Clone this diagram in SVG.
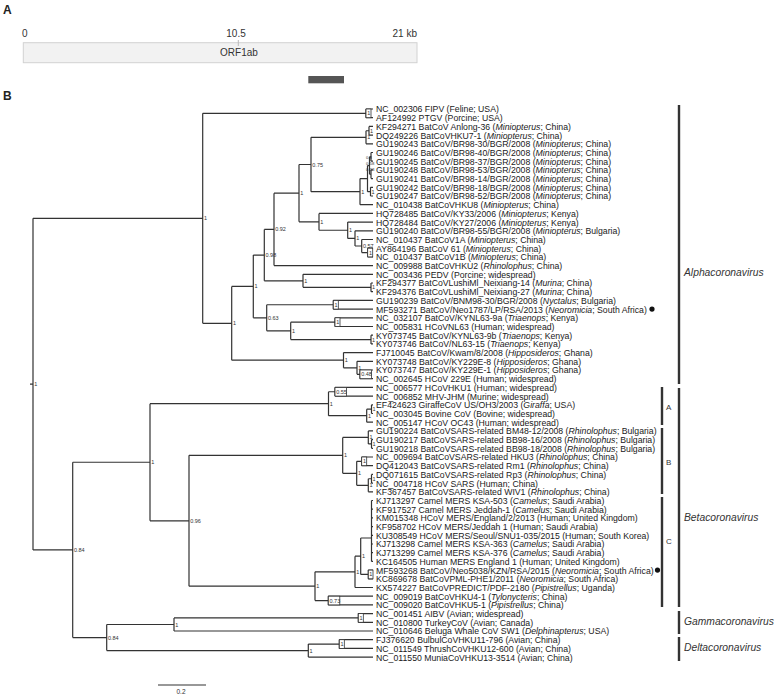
<svg xmlns="http://www.w3.org/2000/svg" width="781" height="696" viewBox="0 0 781 696">
<style>
.lf{font-family:"Liberation Sans",Arial,sans-serif;font-size:9.9px;fill:#1a1a1a}
.i{font-style:italic}
.sv{font-family:"Liberation Sans",Arial,sans-serif;font-size:5.5px;fill:#333}
.sv2{font-family:"Liberation Sans",Arial,sans-serif;font-size:4.3px;fill:#333}
.br{fill:none;stroke:#333;stroke-width:1.2}
.bx{fill:#fff;stroke:#333;stroke-width:0.8}
.cl{font-family:"Liberation Sans",Arial,sans-serif;font-size:10.3px;font-style:italic;fill:#333}
.sub{font-family:"Liberation Sans",Arial,sans-serif;font-size:8px;fill:#333}
.bar{stroke:#333;stroke-width:2.4}
.pa{font-family:"Liberation Sans",Arial,sans-serif;font-size:10px;fill:#333}
.hd{font-family:"Liberation Sans",Arial,sans-serif;font-size:12px;font-weight:bold;fill:#222}
</style>
<!-- Panel A -->
<g id="panelA">
<text class="hd" x="3" y="14">A</text>
<text class="pa" x="22" y="37">0</text>
<text class="pa" x="236" y="37" text-anchor="middle">10.5</text>
<text class="pa" x="417" y="37" text-anchor="end">21 kb</text>
<rect x="23.3" y="42.7" width="393.7" height="20" fill="#f2f2f2" stroke="#d2d2d2" stroke-width="1"/>
<line x1="238.3" y1="40" x2="238.3" y2="46" stroke="#bbb" stroke-width="1"/>
<text class="pa" x="239" y="56" text-anchor="middle">ORF1ab</text>
<rect x="308.3" y="76" width="35.7" height="7.3" fill="#555"/>
</g>
<text class="hd" x="3" y="100">B</text>
<!-- connectors -->
<g id="connectors" class="br">
<path d="M366 109V117.7M366 109H373M366 117.7H373
M369 126.4V135.1M369 126.4H373M369 135.1H373
M366 130.75V143.8M366 130.75H369M366 143.8H373
M371 152.5V161.2M371 152.5H373M371 161.2H373M371 169.9V178.6M371 169.9H373M371 178.6H373
M369.5 156.85V174.25M369.5 156.85H371M369.5 174.25H371
M370.5 187.3V196M370.5 187.3H373M370.5 196H373
M367.5 165.55V191.65M367.5 165.55H369.5M367.5 191.65H370.5
M360 178.6V204.7M360 178.6H367.5M360 204.7H373
M311 137.3V191.65M311 137.3H366M311 191.65H360
M367.7 248.2V256.9M367.7 248.2H373M367.7 256.9H373
M361.7 239.5V252.55M361.7 239.5H373M361.7 252.55H367.7
M355 230.8V246M355 230.8H373M355 246H361.7
M347.7 222.1V238.4M347.7 222.1H373M347.7 238.4H355
M319 213.4V230.25M319 213.4H373M319 230.25H347.7
M299 164.5V221.8M299 164.5H311M299 221.8H319
M274 193.15V265.6M274 193.15H299M274 265.6H373
M371 283V291.7M371 283H373M371 291.7H373
M303 274.3V287.35M303 274.3H373M303 287.35H371
M264.3 229.4V280.8M264.3 229.4H274M264.3 280.8H303
M333.3 300.4V309.1M333.3 300.4H373M333.3 309.1H373
M335 317.8V326.5M335 317.8H373M335 326.5H373
M371 335.2V343.9M371 335.2H373M371 343.9H373
M290.7 322.15V339.55M290.7 322.15H335M290.7 339.55H371
M266.7 304.75V330.85M266.7 304.75H333.3M266.7 330.85H290.7
M253.3 255.1V317.8M253.3 255.1H264.3M253.3 317.8H266.7
M360 370V378.7M360 370H373M360 378.7H373
M357 361.3V374.35M357 361.3H373M357 374.35H360
M343.5 352.6V367.8M343.5 352.6H373M343.5 367.8H357
M231.7 286.45V360.2M231.7 286.45H253.3M231.7 360.2H343.5
M202.7 113.35V323.3M202.7 113.35H366M202.7 323.3H231.7
M335 387.4V396.1M335 387.4H373M335 396.1H373
M371.5 404.8V413.5M371.5 404.8H373M371.5 413.5H373
M366.7 409.15V422.2M366.7 409.15H371.5M366.7 422.2H373
M328.5 391.75V415.7M328.5 391.75H335M328.5 415.7H366.7
M371.5 439.6V448.3M371.5 439.6H373M371.5 448.3H373
M368.3 430.9V443.95M368.3 430.9H373M368.3 443.95H371.5
M361.7 457V465.7M361.7 457H373M361.7 465.7H373
M371.5 474.4V483.1M371.5 474.4H373M371.5 483.1H373
M368.3 478.75V491.8M368.3 478.75H371.5M368.3 491.8H373
M356.7 461.35V485.3M356.7 461.35H361.7M356.7 485.3H368.3
M342.7 437.4V473.3M342.7 437.4H368.3M342.7 473.3H356.7
M371.5 500.5V561.4M371.5 500.5H373M371.5 509.2H373M371.5 517.9H373M371.5 526.6H373M371.5 535.3H373M371.5 544H373M371.5 552.7H373M371.5 561.4H373
M368.3 570.1V578.8M368.3 570.1H373M368.3 578.8H373
M360.7 538V574.45M360.7 538H371.5M360.7 574.45H368.3
M355 556.2V587.5M355 556.2H360.7M355 587.5H373
M328.3 596.2V604.9M328.3 596.2H373M328.3 604.9H373
M315 571.85V600.55M315 571.85H355M315 600.55H328.3
M189 455.35V586.2M189 455.35H342.7M189 586.2H315
M150 403.7V520.8M150 403.7H328.5M150 520.8H189
M358.3 613.6V622.3M358.3 613.6H373M358.3 622.3H373
M174 617.95V631M174 617.95H358.3M174 631H373
M339.3 639.7V648.4M339.3 639.7H373M339.3 648.4H373
M308.3 644.05V657.1M308.3 644.05H339.3M308.3 657.1H373
M106.7 624.5V650.6M106.7 624.5H174M106.7 650.6H308.3
M72.7 462.25V637.55M72.7 462.25H150M72.7 637.55H106.7
M33 218.3V549.9M33 218.3H202.7M33 549.9H72.7M30 384.1H33"/>
<line x1="158" y1="685" x2="206" y2="685"/>
</g>
<!-- support values -->
<g id="support-values">
<rect class="bx" x="366" y="109" width="5" height="8.7"/><text class="sv" x="367.3" y="115.4">1</text>
<text class="sv" x="370" y="132.8">1</text>
<text class="sv" x="367.2" y="139.3">1</text>
<text class="sv2" x="366" y="159">0.8</text>
<text class="sv2" x="366" y="165">0.58</text>
<text class="sv2" x="366" y="171">0.93</text>
<text class="sv" x="371.5" y="193.6">1</text>
<text class="sv" x="361.2" y="193.6">1</text>
<text class="sv" x="312.3" y="166.5">0.75</text>
<rect class="bx" x="367.7" y="248.2" width="5" height="8.7"/><text class="sv" x="368.9" y="254.5">1</text>
<text class="sv" x="362.9" y="248">0.57</text>
<text class="sv" x="356.2" y="240.4">1</text>
<text class="sv" x="348.9" y="232.2">1</text>
<text class="sv" x="320.2" y="223.8">1</text>
<text class="sv" x="300.2" y="195.1">1</text>
<text class="sv" x="275.2" y="231.4">0.92</text>
<text class="sv" x="372" y="289.3">1</text>
<text class="sv" x="304.2" y="282.8">1</text>
<text class="sv" x="265.5" y="257.1">0.98</text>
<rect class="bx" x="333.3" y="300.4" width="5" height="8.7"/><text class="sv" x="334.5" y="306.7">1</text>
<rect class="bx" x="335" y="317.8" width="5" height="8.7"/><text class="sv" x="336.2" y="324.1">1</text>
<text class="sv" x="372" y="341.5">1</text>
<text class="sv" x="291.9" y="332.8">1</text>
<text class="sv" x="267.9" y="319.8">0.63</text>
<text class="sv" x="254.5" y="288.4">1</text>
<rect class="bx" x="360" y="370" width="11.5" height="8.7"/><text class="sv" x="361.2" y="376.3">0.48</text>
<text class="sv" x="358.2" y="369.8">1</text>
<text class="sv" x="344.7" y="362.2">1</text>
<text class="sv" x="232.9" y="325.3">1</text>
<text class="sv" x="203.9" y="220.3">1</text>
<rect class="bx" x="335" y="387.4" width="11.5" height="8.7"/><text class="sv" x="336.2" y="393.7">0.55</text>
<text class="sv" x="372.5" y="411.1">1</text>
<text class="sv" x="367.9" y="417.7">1</text>
<text class="sv" x="329.7" y="405.7">1</text>
<text class="sv" x="372.5" y="446">1</text>
<text class="sv" x="369.5" y="439.4">1</text>
<rect class="bx" x="361.7" y="457" width="5" height="8.7"/><text class="sv" x="362.9" y="463.3">1</text>
<text class="sv" x="372.5" y="480.7">1</text>
<text class="sv" x="369.5" y="487.3">1</text>
<text class="sv" x="357.9" y="475.3">1</text>
<text class="sv" x="343.9" y="457.3">1</text>
<rect class="bx" x="368.3" y="570.1" width="4.7" height="8.7"/><text class="sv" x="369.3" y="576.4">1</text>
<text class="sv" x="361.9" y="558.2">1</text>
<text class="sv" x="356.2" y="573.8">1</text>
<rect class="bx" x="328.3" y="596.2" width="11.5" height="8.7"/><text class="sv" x="329.5" y="602.5">0.73</text>
<text class="sv" x="316.2" y="588.2">1</text>
<text class="sv" x="190.2" y="522.8">0.96</text>
<text class="sv" x="151.2" y="464.2">1</text>
<rect class="bx" x="358.3" y="613.6" width="5" height="8.7"/><text class="sv" x="359.5" y="619.9">1</text>
<text class="sv" x="175.2" y="626.5">1</text>
<rect class="bx" x="339.3" y="639.7" width="5" height="8.7"/><text class="sv" x="340.5" y="646">1</text>
<text class="sv" x="309.5" y="652.6">1</text>
<text class="sv" x="107.9" y="639.5">0.84</text>
<text class="sv" x="73.9" y="551.9">0.84</text>
<text class="sv" x="34.2" y="386">1</text>
<text class="sv" x="176.5" y="694" style="font-size:6.5px">0.2</text>
</g>
<!-- leaves -->
<g id="leaves" transform="scale(0.88 1)">
<g id="n01"><text class="lf" x="427.3" y="112.5">NC_002306 FIPV (Feline; USA)</text></g>
<g id="n02"><text class="lf" x="427.3" y="121.2">AF124992 PTGV (Porcine; USA)</text></g>
<g id="n03"><text class="lf" x="427.3" y="129.9">KF294271 BatCoV Anlong-36 (<tspan class="i">Miniopterus</tspan>; China)</text></g>
<g id="n04"><text class="lf" x="427.3" y="138.6">DQ249226 BatCoVHKU7-1 (<tspan class="i">Miniopterus</tspan>; China)</text></g>
<g id="n05"><text class="lf" x="427.3" y="147.3">GU190243 BatCoV/BR98-30/BGR/2008 (<tspan class="i">Miniopterus</tspan>; China)</text></g>
<g id="n06"><text class="lf" x="427.3" y="156">GU190246 BatCoV/BR98-40/BGR/2008 (<tspan class="i">Miniopterus</tspan>; China)</text></g>
<g id="n07"><text class="lf" x="427.3" y="164.7">GU190245 BatCoV/BR98-37/BGR/2008 (<tspan class="i">Miniopterus</tspan>; China)</text></g>
<g id="n08"><text class="lf" x="427.3" y="173.4">GU190248 BatCoV/BR98-53/BGR/2008 (<tspan class="i">Miniopterus</tspan>; China)</text></g>
<g id="n09"><text class="lf" x="427.3" y="182.1">GU190241 BatCoV/BR98-14/BGR/2008 (<tspan class="i">Miniopterus</tspan>; China)</text></g>
<g id="n10"><text class="lf" x="427.3" y="190.8">GU190242 BatCoV/BR98-18/BGR/2008 (<tspan class="i">Miniopterus</tspan>; China)</text></g>
<g id="n11"><text class="lf" x="427.3" y="199.5">GU190247 BatCoV/BR98-52/BGR/2008 (<tspan class="i">Miniopterus</tspan>; China)</text></g>
<g id="n12"><text class="lf" x="427.3" y="208.2">NC_010438 BatCoVHKU8 (<tspan class="i">Miniopterus</tspan>; China)</text></g>
<g id="n13"><text class="lf" x="427.3" y="216.9">HQ728485 BatCoV/KY33/2006 (<tspan class="i">Miniopterus</tspan>; Kenya)</text></g>
<g id="n14"><text class="lf" x="427.3" y="225.6">HQ728484 BatCoV/KY27/2006 (<tspan class="i">Miniopterus</tspan>; Kenya)</text></g>
<g id="n15"><text class="lf" x="427.3" y="234.3">GU190240 BatCoV/BR98-55/BGR/2008 (<tspan class="i">Miniopterus</tspan>; Bulgaria)</text></g>
<g id="n16"><text class="lf" x="427.3" y="243">NC_010437 BatCoV1A (<tspan class="i">Miniopterus</tspan>; China)</text></g>
<g id="n17"><text class="lf" x="427.3" y="251.7">AY864196 BatCoV 61 (<tspan class="i">Miniopterus</tspan>; China)</text></g>
<g id="n18"><text class="lf" x="427.3" y="260.4">NC_010437 BatCoV1B (<tspan class="i">Miniopterus</tspan>; China)</text></g>
<g id="n19"><text class="lf" x="427.3" y="269.1">NC_009988 BatCoVHKU2 (<tspan class="i">Rhinolophus</tspan>; China)</text></g>
<g id="n20"><text class="lf" x="427.3" y="277.8">NC_003436 PEDV (Porcine; widespread)</text></g>
<g id="n21"><text class="lf" x="427.3" y="286.5">KF294377 BatCoVLushiMl_Neixiang-14 (<tspan class="i">Murina</tspan>; China)</text></g>
<g id="n22"><text class="lf" x="427.3" y="295.2">KF294376 BatCoVLushiMl_Neixiang-27 (<tspan class="i">Murina</tspan>; China)</text></g>
<g id="n23"><text class="lf" x="427.3" y="303.9">GU190239 BatCoV/BNM98-30/BGR/2008 (<tspan class="i">Nyctalus</tspan>; Bulgaria)</text></g>
<g id="n24"><text class="lf" x="427.3" y="312.6">MF593271 BatCoV/Neo1787/LP/RSA/2013 (<tspan class="i">Neoromicia</tspan>; South Africa)</text></g>
<g id="n25"><text class="lf" x="427.3" y="321.3">NC_032107 BatCoV/KYNL63-9a (<tspan class="i">Triaenops</tspan>; Kenya)</text></g>
<g id="n26"><text class="lf" x="427.3" y="330">NC_005831 HCoVNL63 (Human; widespread)</text></g>
<g id="n27"><text class="lf" x="427.3" y="338.7">KY073745 BatCoV/KYNL63-9b (<tspan class="i">Triaenops</tspan>; Kenya)</text></g>
<g id="n28"><text class="lf" x="427.3" y="347.4">KY073746 BatCoV/NL63-15 (<tspan class="i">Triaenops</tspan>; Kenya)</text></g>
<g id="n29"><text class="lf" x="427.3" y="356.1">FJ710045 BatCoV/Kwam/8/2008 (<tspan class="i">Hipposideros</tspan>; Ghana)</text></g>
<g id="n30"><text class="lf" x="427.3" y="364.8">KY073748 BatCoV/KY229E-8 (<tspan class="i">Hipposideros</tspan>; Ghana)</text></g>
<g id="n31"><text class="lf" x="427.3" y="373.5">KY073747 BatCoV/KY229E-1 (<tspan class="i">Hipposideros</tspan>; Ghana)</text></g>
<g id="n32"><text class="lf" x="427.3" y="382.2">NC_002645 HCoV 229E (Human; widespread)</text></g>
<g id="n33"><text class="lf" x="427.3" y="390.9">NC_006577 HCoVHKU1 (Human; widespread)</text></g>
<g id="n34"><text class="lf" x="427.3" y="399.6">NC_006852 MHV-JHM (Murine; widespread)</text></g>
<g id="n35"><text class="lf" x="427.3" y="408.3">EF424623 GiraffeCoV US/OH3/2003 (<tspan class="i">Giraffa</tspan>; USA)</text></g>
<g id="n36"><text class="lf" x="427.3" y="417">NC_003045 Bovine CoV (Bovine; widespread)</text></g>
<g id="n37"><text class="lf" x="427.3" y="425.7">NC_005147 HCoV OC43 (Human; widespread)</text></g>
<g id="n38"><text class="lf" x="427.3" y="434.4">GU190224 BatCoVSARS-related BM48-12/2008 (<tspan class="i">Rhinolophus</tspan>; Bulgaria)</text></g>
<g id="n39"><text class="lf" x="427.3" y="443.1">GU190217 BatCoVSARS-related BB98-16/2008 (<tspan class="i">Rhinolophus</tspan>; Bulgaria)</text></g>
<g id="n40"><text class="lf" x="427.3" y="451.8">GU190218 BatCoVSARS-related BB98-18/2008 (<tspan class="i">Rhinolophus</tspan>; Bulgaria)</text></g>
<g id="n41"><text class="lf" x="427.3" y="460.5">NC_009694 BatCoVSARS-related HKU3 (<tspan class="i">Rhinolophus</tspan>; China)</text></g>
<g id="n42"><text class="lf" x="427.3" y="469.2">DQ412043 BatCoVSARS-related Rm1 (<tspan class="i">Rhinolophus</tspan>; China)</text></g>
<g id="n43"><text class="lf" x="427.3" y="477.9">DQ071615 BatCoVSARS-related Rp3 (<tspan class="i">Rhinolophus</tspan>; China)</text></g>
<g id="n44"><text class="lf" x="427.3" y="486.6">NC_004718 HCoV SARS (Human; China)</text></g>
<g id="n45"><text class="lf" x="427.3" y="495.3">KF367457 BatCoVSARS-related WIV1 (<tspan class="i">Rhinolophus</tspan>; China)</text></g>
<g id="n46"><text class="lf" x="427.3" y="504">KJ713297 Camel MERS KSA-503 (<tspan class="i">Camelus</tspan>; Saudi Arabia)</text></g>
<g id="n47"><text class="lf" x="427.3" y="512.7">KF917527 Camel MERS Jeddah-1 (<tspan class="i">Camelus</tspan>; Saudi Arabia)</text></g>
<g id="n48"><text class="lf" x="427.3" y="521.4">KM015348 HCoV MERS/England/2/2013 (Human; United Kingdom)</text></g>
<g id="n49"><text class="lf" x="427.3" y="530.1">KF958702 HCoV MERS/Jeddah 1 (Human; Saudi Arabia)</text></g>
<g id="n50"><text class="lf" x="427.3" y="538.8">KU308549 HCoV MERS/Seoul/SNU1-035/2015 (Human; South Korea)</text></g>
<g id="n51"><text class="lf" x="427.3" y="547.5">KJ713298 Camel MERS KSA-363 (<tspan class="i">Camelus</tspan>; Saudi Arabia)</text></g>
<g id="n52"><text class="lf" x="427.3" y="556.2">KJ713299 Camel MERS KSA-376 (<tspan class="i">Camelus</tspan>; Saudi Arabia)</text></g>
<g id="n53"><text class="lf" x="427.3" y="564.9">KC164505 Human MERS England 1 (Human; United Kingdom)</text></g>
<g id="n54"><text class="lf" x="427.3" y="573.6">MF593268 BatCoV/Neo5038/KZN/RSA/2015 (<tspan class="i">Neoromicia</tspan>; South Africa)</text></g>
<g id="n55"><text class="lf" x="427.3" y="582.3">KC869678 BatCoVPML-PHE1/2011 (<tspan class="i">Neoromicia</tspan>; South Africa)</text></g>
<g id="n56"><text class="lf" x="427.3" y="591">KX574227 BatCoVPREDICT/PDF-2180 (<tspan class="i">Pipistrellus</tspan>; Uganda)</text></g>
<g id="n57"><text class="lf" x="427.3" y="599.7">NC_009019 BatCoVHKU4-1 (<tspan class="i">Tylonycteris</tspan>; China)</text></g>
<g id="n58"><text class="lf" x="427.3" y="608.4">NC_009020 BatCoVHKU5-1 (<tspan class="i">Pipistrellus</tspan>; China)</text></g>
<g id="n59"><text class="lf" x="427.3" y="617.1">NC_001451 AIBV (Avian; widespread)</text></g>
<g id="n60"><text class="lf" x="427.3" y="625.8">NC_010800 TurkeyCoV (Avian; Canada)</text></g>
<g id="n61"><text class="lf" x="427.3" y="634.5">NC_010646 Beluga Whale CoV SW1 (<tspan class="i">Delphinapterus</tspan>; USA)</text></g>
<g id="n62"><text class="lf" x="427.3" y="643.2">FJ376620 BulbulCoVHKU11-796 (Avian; China)</text></g>
<g id="n63"><text class="lf" x="427.3" y="651.9">NC_011549 ThrushCoVHKU12-600 (Avian; China)</text></g>
<g id="n64"><text class="lf" x="427.3" y="660.6">NC_011550 MuniaCoVHKU13-3514 (Avian; China)</text></g>
</g>
<g id="markers" fill="#111">
<circle cx="652" cy="309.1" r="2.6"/>
<circle cx="657.5" cy="570.1" r="2.6"/>
</g>
<!-- clade brackets -->
<g id="clades">
<line class="bar" x1="679" y1="105" x2="679" y2="384"/>
<line class="bar" x1="679" y1="388" x2="679" y2="607"/>
<line class="bar" x1="679" y1="611" x2="679" y2="634"/>
<line class="bar" x1="679" y1="637" x2="679" y2="661"/>
<line class="bar" x1="662" y1="387" x2="662" y2="425"/>
<line class="bar" x1="662" y1="428" x2="662" y2="494"/>
<line class="bar" x1="662" y1="497" x2="662" y2="607"/>
<text class="cl" x="684" y="276">Alphacoronavirus</text>
<text class="cl" x="684" y="521">Betacoronavirus</text>
<text class="cl" x="684" y="625">Gammacoronavirus</text>
<text class="cl" x="684" y="651">Deltacoronavirus</text>
<text class="sub" x="666" y="410">A</text>
<text class="sub" x="666" y="465">B</text>
<text class="sub" x="666" y="544">C</text>
</g>
</svg>
